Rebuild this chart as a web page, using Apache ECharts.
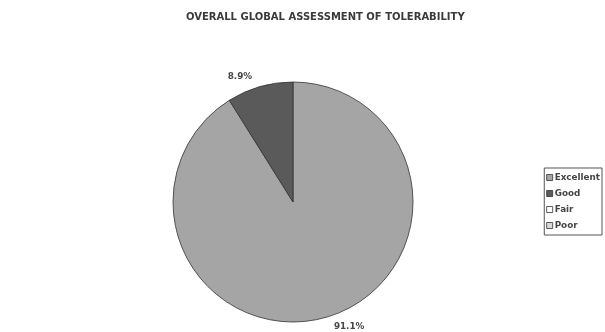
<!DOCTYPE html>
<html>
<head>
<meta charset="utf-8">
<script src="https://cdn.jsdelivr.net/npm/echarts@6/dist/echarts.min.js"></script>
<style>
  html, body { margin: 0; padding: 0; background: #ffffff; }
  #chart { width: 605px; height: 332px; }
</style>
</head>
<body>
<div id="chart"></div>
<script>
// Ratings of overall tolerability (percent of patients)
const categories = ['Excellent', 'Good', 'Fair', 'Poor'];
const values = [91.1, 8.9, 0, 0];
const colors = ['#a5a5a5', '#5a5a5a', '#ffffff', '#d9d9d9'];

const chart = echarts.init(document.getElementById('chart'));

const data = categories.map((name, i) => ({
  name: name,
  value: values[i],
  itemStyle: { color: colors[i], borderWidth: values[i] > 0 ? 0.8 : 0 },
  label: { show: values[i] > 0 }
}));

const font = 'DejaVu Sans, Verdana, sans-serif';

chart.setOption({
  backgroundColor: '#ffffff',
  animation: false,
  title: {
    text: 'OVERALL GLOBAL ASSESSMENT OF TOLERABILITY',
    left: 181,
    top: 7,
    textStyle: {
      fontFamily: font,
      fontSize: 10,
      fontWeight: 'bold',
      color: '#3a3a3a'
    }
  },
  legend: {
    orient: 'vertical',
    right: 3,
    top: 168,
    data: categories,
    icon: 'rect',
    itemWidth: 6,
    itemHeight: 6,
    itemGap: 7,
    padding: [5, 2, 5, 2],
    borderColor: '#555555',
    borderWidth: 1,
    borderRadius: 0,
    itemStyle: { borderColor: '#333333', borderWidth: 0.8 },
    textStyle: {
      fontFamily: font,
      fontSize: 8.8,
      fontWeight: 'bold',
      color: '#444444',
      padding: [0, 0, 0, -3]
    }
  },
  series: [{
    type: 'pie',
    center: [293, 202],
    radius: 120,
    startAngle: 90,
    clockwise: true,
    percentPrecision: 1,
    stillShowZeroSum: false,
    itemStyle: { borderColor: '#333333' },
    label: {
      position: 'outside',
      formatter: '{d}%',
      fontFamily: font,
      fontSize: 8.8,
      fontWeight: 'bold',
      color: '#444444'
    },
    labelLine: { show: false, length: 10, length2: 0 },
    emphasis: { disabled: true },
    data: data
  }]
});
</script>
</body>
</html>
